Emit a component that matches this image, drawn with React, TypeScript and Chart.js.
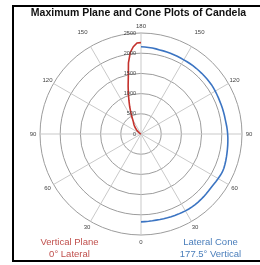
import React, { useEffect, useRef } from 'react';
import { Chart, registerables } from 'chart.js';

Chart.register(...registerables);

const TITLE = 'Maximum Plane and Cone Plots of Candela';
const RADIAL_TICKS = [0, 500, 1000, 1500, 2000, 2500];
// angle labels clockwise from the top, every 30 degrees
const ANGLE_TICKS = [180, 150, 120, 90, 60, 30, 0, 30, 60, 90, 120, 150];
const STEP = 2.5;

const RED_CAPTION = ['Vertical Plane', '0° Lateral'];
const BLUE_CAPTION = ['Lateral Cone', '177.5° Vertical'];

// Vertical plane at 0° lateral (drawn on the left half)
const VERTICAL_ANGLES = [
  110, 112.5, 115, 117.5, 120, 122.5, 125, 127.5, 130, 132.5, 135, 137.5, 140, 142.5,
  145, 147.5, 150, 152.5, 155, 157.5, 160, 162.5, 165, 167.5, 170, 172.5, 175, 177.5, 180,
];
const VERTICAL_CANDELA = [
  0, 0, 8, 15, 25, 40, 60, 80, 110, 140, 174, 209, 245, 281,
  316, 350, 410, 500, 600, 730, 870, 1040, 1230, 1450, 1790, 2035, 2170, 2255, 2262,
];

// Lateral cone at 177.5° vertical (drawn on the right half)
const LATERAL_ANGLES = [
  180, 177.5, 175, 172.5, 170, 167.5, 165, 162.5, 160, 157.5, 155, 152.5, 150, 147.5,
  145, 142.5, 140, 137.5, 135, 132.5, 130, 127.5, 125, 122.5, 120, 117.5, 115, 112.5,
  110, 107.5, 105, 102.5, 100, 97.5, 95, 92.5, 90, 87.5, 85, 82.5, 80, 77.5, 75, 72.5,
  70, 67.5, 65, 62.5, 60, 57.5, 55, 52.5, 50, 47.5, 45, 42.5, 40, 37.5, 35, 32.5, 30,
  27.5, 25, 22.5, 20, 17.5, 15, 12.5, 10, 7.5, 5, 2.5, 0,
];
const LATERAL_CANDELA = [
  2160, 2155, 2150, 2145, 2140, 2132, 2130, 2128, 2125, 2123, 2122, 2121, 2120, 2121,
  2122, 2123, 2124, 2124, 2125, 2126, 2127, 2128, 2129, 2126, 2122, 2118, 2115, 2112,
  2112, 2113, 2114, 2115, 2116, 2122, 2130, 2138, 2145, 2152, 2158, 2165, 2172, 2180, 2190, 2200,
  2210, 2220, 2222, 2215, 2205, 2195, 2186, 2183, 2186, 2190, 2194, 2197, 2200, 2202, 2203, 2202, 2198,
  2193, 2188, 2183, 2179, 2175, 2171, 2167, 2165, 2166, 2168, 2170, 2175,
];

export default function App() {
  const ref = useRef<HTMLCanvasElement | null>(null);

  useEffect(() => {
    const canvas = ref.current;
    if (!canvas) return;

    const slots = Math.round(360 / STEP);
    const labels: string[] = [];
    for (let i = 0; i < slots; i++) labels.push(String(Math.abs(180 - i * STEP)));

    const red: (number | null)[] = new Array(slots).fill(null);
    VERTICAL_ANGLES.forEach((v, k) => {
      const idx = Math.round(((180 + v) % 360) / STEP);
      red[idx] = VERTICAL_CANDELA[k];
    });
    const blue: (number | null)[] = new Array(slots).fill(null);
    LATERAL_ANGLES.forEach((l, k) => {
      const idx = Math.round((180 - l) / STEP);
      blue[idx] = LATERAL_CANDELA[k];
    });

    const overlay = {
      id: 'overlay',
      afterDraw(chart: any) {
        const ctx = chart.ctx as CanvasRenderingContext2D;
        const scale = chart.scales.r;
        ctx.save();
        // frame
        ctx.strokeStyle = '#000';
        ctx.lineWidth = 2;
        ctx.strokeRect(13, 6, 400, 255);
        // title
        ctx.fillStyle = '#111';
        ctx.font = 'bold 10.5px "Liberation Sans", Arial, sans-serif';
        ctx.textAlign = 'center';
        ctx.textBaseline = 'middle';
        ctx.fillText(TITLE, 138.5, 13);
        // angle labels
        ctx.fillStyle = '#444';
        ctx.font = '6px "Liberation Sans", Arial, sans-serif';
        ANGLE_TICKS.forEach((lab, k) => {
          const idx = k * Math.round(30 / STEP);
          const d = lab === 150 ? 16 : 7;
          const p = scale.getPointPosition(idx, scale.drawingArea + d);
          ctx.fillText(String(lab), p.x, p.y);
        });
        // radial tick labels
        ctx.font = '5.5px "Liberation Sans", Arial, sans-serif';
        ctx.textAlign = 'right';
        RADIAL_TICKS.forEach((v) => {
          const y = scale.yCenter - scale.getDistanceFromCenterForValue(v);
          ctx.fillText(String(v), scale.xCenter - 5, y);
        });
        // captions
        ctx.textAlign = 'center';
        ctx.font = '9.5px "Liberation Sans", Arial, sans-serif';
        ctx.fillStyle = '#c0504d';
        ctx.fillText(RED_CAPTION[0], 69.5, 242);
        ctx.fillText(RED_CAPTION[1], 69.5, 254.5);
        ctx.fillStyle = '#4a7ebb';
        ctx.fillText(BLUE_CAPTION[0], 210.5, 242);
        ctx.fillText(BLUE_CAPTION[1], 210.5, 254.5);
        ctx.restore();
      },
    };

    const chart = new Chart(canvas, {
      type: 'radar',
      data: {
        labels,
        datasets: [
          {
            label: 'Vertical Plane 0° Lateral',
            data: red,
            borderColor: '#c4312c',
            borderWidth: 1.6,
            pointRadius: 0,
            pointHitRadius: 0,
            fill: false,
            spanGaps: false,
          },
          {
            label: 'Lateral Cone 177.5° Vertical',
            data: blue,
            borderColor: '#3b74c2',
            borderWidth: 1.6,
            pointRadius: 0,
            pointHitRadius: 0,
            fill: false,
            spanGaps: false,
          },
        ],
      },
      options: {
        responsive: false,
        animation: false,
        layout: { padding: { left: 40, top: 33, right: 18, bottom: 30 } },
        plugins: {
          legend: { display: false },
          title: { display: false },
          tooltip: { enabled: false },
        },
        scales: {
          r: {
            min: 0,
            max: 2500,
            ticks: { display: false, stepSize: 500 },
            pointLabels: { display: false },
            grid: { circular: true, color: '#9c9c9c', lineWidth: 1 },
            angleLines: {
              display: true,
              color: '#c9c9c9',
              lineWidth: (c: any) => (c.index % Math.round(30 / STEP) === 0 ? 1 : 0),
            },
          },
        },
      },
      plugins: [overlay],
    });

    return () => chart.destroy();
  }, []);

  return (
    <div style={{ position: 'fixed', left: 0, top: 0, width: 260, height: 265, background: '#fff' }}>
      <canvas ref={ref} width={260} height={265} style={{ display: 'block' }} />
    </div>
  );
}
